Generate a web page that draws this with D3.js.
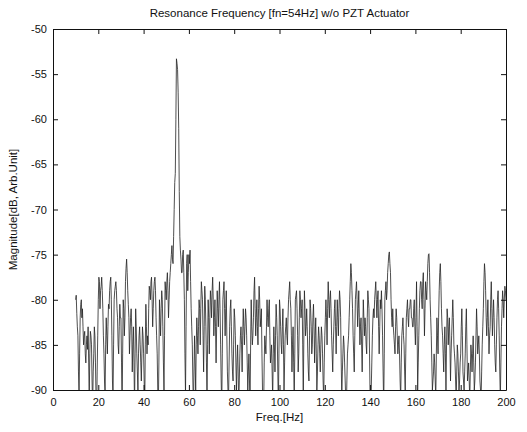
<!DOCTYPE html>
<html>
<head>
<meta charset="utf-8">
<script src="https://cdn.jsdelivr.net/npm/d3@7"></script>
<style>
  body { margin: 0; background: #fff; }
  text { font-family: "Liberation Sans", Arial, Helvetica, sans-serif; fill: #111; }
  .axis path, .axis line { stroke: #111; }
</style>
</head>
<body>
<svg id="chart"></svg>
<script>
const startHz = 10;
const stepHz = 0.25;
const magnitude = [
  -80, -79.5, -81.5, -83, -84, -88, -90.5, -86, -82, -80.5, -80, -82, -81, -83, -85, -84, -83.5, -86, -87, -85,
  -84, -85.5, -83, -87, -91, -86, -83.5, -84, -85, -89, -92, -88, -86, -83, -84, -87, -91, -93, -88, -84,
  -80, -77.5, -78, -81, -79, -78.5, -77.5, -79, -81, -84, -86, -89, -90.5, -85, -82, -84, -86, -83, -80.5, -81,
  -79, -78, -77.5, -80, -84, -89, -91, -85, -80, -79, -78.5, -78, -79, -81, -82, -85, -86, -83, -80.5, -82,
  -82, -87, -92, -86, -80, -81, -84, -82, -78, -76.5, -75.5, -77, -79, -80.5, -82, -86, -84, -82, -81, -83,
  -88, -85, -83, -87, -92, -86, -81, -83, -86, -88, -90, -86, -84, -83, -85, -87, -89, -86, -83, -84,
  -86, -89, -92, -85, -80.5, -83, -86, -84, -85, -81, -78.5, -79, -80, -78, -77.5, -80, -83, -81, -79, -78,
  -77.5, -79, -82, -84, -86, -90, -92, -87, -80, -82, -84, -81, -79, -80, -83, -87, -90, -84, -78, -79,
  -80, -78, -77, -79, -82, -80, -78, -77, -76, -75, -74, -75.5, -76, -73, -70, -67, -66, -60, -53.3, -53.8,
  -54.5, -57, -61, -68, -73, -74.5, -75.5, -77, -77, -75, -74.5, -77, -80, -86, -90.5, -83, -76, -75, -79, -77,
  -75, -76, -74.5, -78, -81, -83, -85, -89, -92, -88, -84, -87, -90, -85, -82, -84, -86, -83, -80, -81,
  -85, -81, -78, -79, -80, -84, -88, -83, -78.5, -80, -83, -87, -91, -85, -80, -82, -86, -82, -79, -80,
  -82, -79, -77.5, -80, -84, -82, -80, -83, -87, -83, -79, -81, -83, -80, -78, -81, -85, -89, -92, -86,
  -80, -79, -78, -81, -84, -81, -79, -84, -88, -90, -91, -87, -83, -81, -80, -83, -86, -88, -89, -85,
  -81, -82, -84, -87, -90, -87, -85, -88, -92, -89, -86, -84, -83, -85, -88, -84, -81, -83, -85, -83,
  -81, -82, -84, -87, -90, -88, -86, -89, -92, -85, -80, -83, -85, -84, -82, -79, -77.5, -81, -84, -82,
  -80, -83, -85, -81, -78.5, -80, -83, -82, -81, -86, -90, -93, -92, -87, -84, -85, -86, -83, -80, -82,
  -83, -81, -80, -84, -87, -86, -85, -88, -91, -86, -83, -85, -88, -84, -80.5, -82, -84, -88, -92, -86,
  -80, -81, -83, -85, -86, -83, -81, -85, -90, -87, -84, -83, -82, -84, -85, -82, -80, -79, -78, -80,
  -81, -84, -88, -85, -83, -87, -91, -86, -80, -79.5, -79, -81, -84, -88, -86, -82, -79, -80, -82, -81,
  -80, -85, -91, -84, -79, -81, -84, -83, -81, -83, -86, -88, -89, -84, -80, -81, -83, -86, -85, -82,
  -80.5, -83, -87, -84, -82, -86, -90, -88, -85, -83, -84, -86, -88, -85, -83, -84, -86, -89, -91, -87,
  -84, -82, -80, -82, -85, -81, -78, -80, -82, -80, -79, -81, -84, -86, -88, -85, -83, -81, -80, -83,
  -86, -83, -80, -82, -84, -81, -79, -80, -82, -87, -91, -88, -86, -84, -85, -87, -89, -91, -92, -89,
  -86, -85, -84, -82, -80, -78, -76, -77, -79, -81, -84, -86, -88, -84, -80, -79, -78, -80, -83, -81,
  -79, -82, -85, -83, -82, -85, -88, -84, -80, -82, -84, -82, -83, -85, -86, -82, -79, -80, -81, -86,
  -91, -92, -90, -87, -84, -82, -81, -82, -80, -79, -78, -80, -82, -80, -79, -83, -86, -83, -80, -81,
  -79, -81, -84, -88, -92, -86, -80, -79, -78, -80, -79, -77, -76, -75, -74.7, -76, -77, -80, -82, -83,
  -81, -83, -84, -85, -86, -83, -81, -82, -84, -86, -85, -84, -86, -89, -91, -87, -84, -83, -82, -84,
  -85, -88, -90, -86, -82, -81, -80, -82, -83, -81, -81, -80, -80, -82, -82, -83, -83, -81, -80, -83,
  -85, -82, -78, -83, -90, -87, -84, -81, -79, -78, -78, -80, -81, -78, -77, -80, -84, -81, -78, -79,
  -80, -78, -76, -75, -74.9, -77, -80, -82, -84, -87, -90, -89, -88, -86, -87, -89, -91, -86, -82, -84,
  -86, -82, -79, -77, -76, -78, -81, -83, -84, -86, -88, -85, -83, -86, -90, -85, -81, -82, -85, -83,
  -82, -85, -89, -86, -84, -82, -80, -82, -85, -86, -87, -89, -91, -88, -85, -86, -88, -90, -89, -87,
  -86, -83, -81, -84, -88, -89, -90, -88, -86, -83, -81, -85, -89, -88, -87, -89, -91, -88, -85, -86,
  -88, -86, -84, -87, -90, -89, -87, -84, -81, -83, -86, -85, -84, -86, -89, -90, -91, -88, -85, -83,
  -81, -78, -76, -77, -79, -82, -84, -82, -80, -83, -86, -84, -83, -80, -78, -81, -84, -82, -80, -82,
  -85, -87, -88, -85, -82, -80, -79, -81, -84, -88, -91, -87, -83, -81, -79, -80, -82, -80, -78.5, -79,
  -80
];
const xTicks = [0, 20, 40, 60, 80, 100, 120, 140, 160, 180, 200];
const yTicks = [-50, -55, -60, -65, -70, -75, -80, -85, -90];

const titleText = 'Resonance Frequency [fn=54Hz] w/o PZT Actuator';
const xLabel = 'Freq.[Hz]';
const yLabel = 'Magnitude[dB, Arb.Unit]';

const width = 527, height = 432;
const margin = {top: 29, right: 21, bottom: 42, left: 53};
const innerW = width - margin.left - margin.right;
const innerH = height - margin.top - margin.bottom;

const data = magnitude.map((m, i) => ({f: startHz + i * stepHz, m: m}));

const svg = d3.select('#chart')
    .attr('width', width)
    .attr('height', height);

const chart = svg.append('g')
    .attr('transform', `translate(${margin.left},${margin.top})`);

const xScale = d3.scaleLinear().domain([0, 200]).range([0, innerW]);
const yScale = d3.scaleLinear().domain([-90, -50]).range([innerH, 0]);

// clip the trace to the axes box (dips below -90 run off the bottom)
svg.append('defs').append('clipPath')
    .attr('id', 'plot-clip')
  .append('rect')
    .attr('width', innerW)
    .attr('height', innerH);

const line = d3.line()
    .x(d => xScale(d.f))
    .y(d => yScale(d.m));

chart.append('path')
    .datum(data)
    .attr('clip-path', 'url(#plot-clip)')
    .attr('fill', 'none')
    .attr('stroke', '#222')
    .attr('stroke-width', 0.8)
    .attr('d', line);

// axes, ticks pointing inward like matlab
const tickLen = 5;
const fmt = d => String(d); // plain hyphen minus
const xAxis = d3.axisBottom(xScale).tickValues(xTicks).tickFormat(fmt).tickSizeInner(-tickLen).tickSizeOuter(0).tickPadding(8);
const yAxis = d3.axisLeft(yScale).tickValues(yTicks).tickFormat(fmt).tickSizeInner(-tickLen).tickSizeOuter(0).tickPadding(6);
const xAxisTop = d3.axisTop(xScale).tickValues(xTicks).tickSizeInner(-tickLen).tickSizeOuter(0).tickFormat('');
const yAxisRight = d3.axisRight(yScale).tickValues(yTicks).tickSizeInner(-tickLen).tickSizeOuter(0).tickFormat('');

chart.append('g').attr('class', 'axis')
    .attr('transform', `translate(0,${innerH})`)
    .call(xAxis);
chart.append('g').attr('class', 'axis')
    .call(yAxis);
chart.append('g').attr('class', 'axis')
    .call(xAxisTop);
chart.append('g').attr('class', 'axis')
    .attr('transform', `translate(${innerW},0)`)
    .call(yAxisRight);

chart.selectAll('.axis text')
    .style('font-size', '11px')
    .style('font-family', '"Liberation Sans", Arial, sans-serif');

// titles
svg.append('text')
    .attr('x', margin.left + innerW / 2)
    .attr('y', 17)
    .attr('text-anchor', 'middle')
    .style('font-size', '11.5px')
    .text(titleText);

svg.append('text')
    .attr('x', margin.left + innerW / 2)
    .attr('y', height - 11)
    .attr('text-anchor', 'middle')
    .style('font-size', '11.5px')
    .text(xLabel);

svg.append('text')
    .attr('transform', `translate(17,${margin.top + innerH / 2}) rotate(-90)`)
    .attr('text-anchor', 'middle')
    .style('font-size', '11.5px')
    .text(yLabel);
</script>
</body>
</html>
